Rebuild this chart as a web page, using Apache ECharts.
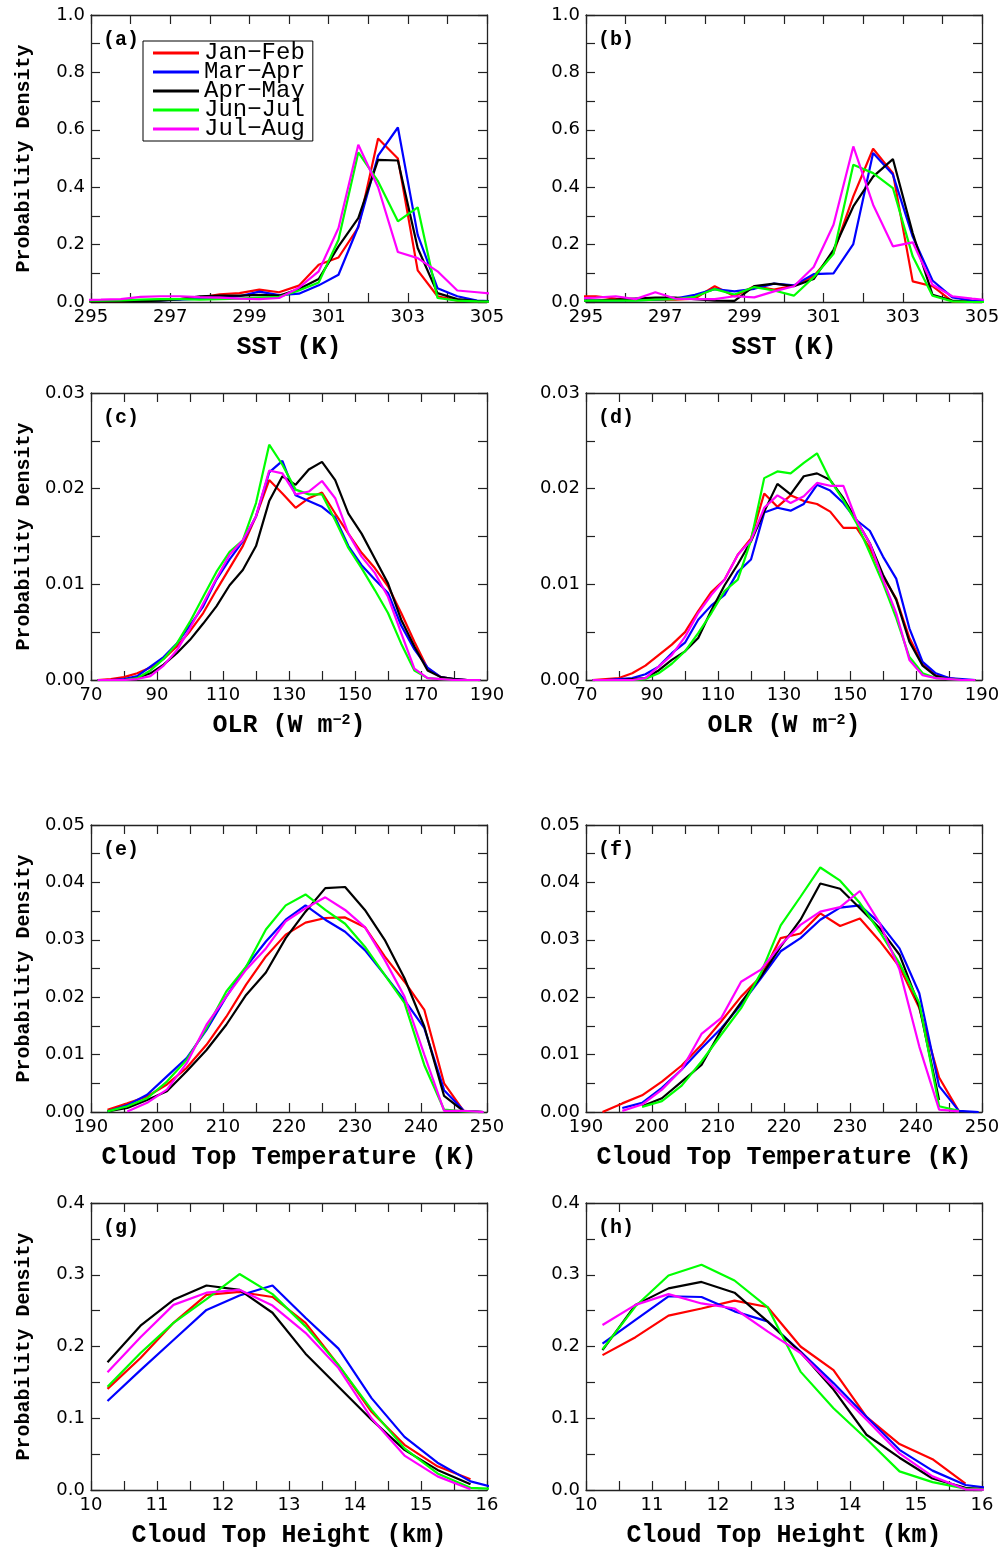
<!DOCTYPE html>
<html>
<head>
<meta charset="utf-8">
<title>Probability density</title>
<script src="https://cdn.jsdelivr.net/npm/echarts@6/dist/echarts.min.js"></script>
<style>
  html, body { margin: 0; padding: 0; background: #fff; }
  #main { width: 1006px; height: 1549px; }
</style>
</head>
<body>
<div id="main"></div>
<script>
var seasons = ['Jan\u2212Feb', 'Mar\u2212Apr', 'Apr\u2212May', 'Jun\u2212Jul', 'Jul\u2212Aug']
var seasonColors = ['#ff0000', '#0000ff', '#000000', '#00ff00', '#ff00ff']

// bin centres
var sstBins = [294.75, 295.25, 295.75, 296.25, 296.75, 297.25, 297.75, 298.25, 298.75, 299.25, 299.75,
  300.25, 300.75, 301.25, 301.75, 302.25, 302.75, 303.25, 303.75, 304.25, 304.75, 305.25]
var olrBins = [72, 76, 80, 84, 88, 92, 96, 100, 104, 108, 112, 116, 120, 124, 128, 132, 136, 140,
  144, 148, 152, 156, 160, 164, 168, 172, 176, 180, 184, 188]
var cttBins = [192.5, 195.5, 198.5, 201.5, 204.5, 207.5, 210.5, 213.5, 216.5, 219.5, 222.5, 225.5,
  228.5, 231.5, 234.5, 237.5, 240.5, 243.5, 246.5, 249.5]
var cthBins = [10.25, 10.75, 11.25, 11.75, 12.25, 12.75, 13.25, 13.75, 14.25, 14.75, 15.25, 15.75, 16.25]

// rows: Jan-Feb, Mar-Apr, Apr-May, Jun-Jul, Jul-Aug
var sstA = [
  [0.003, 0.003, 0.003, 0.005, 0.008, 0.01, 0.015, 0.027, 0.031, 0.043, 0.034, 0.057, 0.13, 0.155, 0.26, 0.57, 0.50, 0.11, 0.02, 0.005, 0.003, 0.002],
  [0.003, 0.004, 0.005, 0.005, 0.006, 0.008, 0.012, 0.015, 0.02, 0.036, 0.024, 0.029, 0.058, 0.095, 0.263, 0.51, 0.608, 0.234, 0.048, 0.02, 0.005, 0.002],
  [0.002, 0.002, 0.002, 0.003, 0.005, 0.01, 0.02, 0.022, 0.022, 0.025, 0.022, 0.045, 0.08, 0.194, 0.292, 0.495, 0.493, 0.188, 0.031, 0.01, 0.003, 0.001],
  [0.005, 0.005, 0.006, 0.008, 0.01, 0.01, 0.008, 0.01, 0.012, 0.015, 0.018, 0.04, 0.068, 0.217, 0.521, 0.42, 0.281, 0.33, 0.014, 0.005, 0.002, 0.001],
  [0.007, 0.008, 0.01, 0.018, 0.02, 0.02, 0.017, 0.015, 0.012, 0.01, 0.014, 0.05, 0.107, 0.258, 0.548, 0.40, 0.174, 0.153, 0.107, 0.04, 0.034, 0.028]
]
var sstB = [
  [0.02, 0.02, 0.012, 0.01, 0.008, 0.008, 0.012, 0.055, 0.02, 0.055, 0.043, 0.057, 0.09, 0.17, 0.368, 0.534, 0.449, 0.072, 0.055, 0.002, 0, 0],
  [0.005, 0.005, 0.005, 0.006, 0.008, 0.012, 0.025, 0.045, 0.037, 0.046, 0.064, 0.058, 0.097, 0.1, 0.202, 0.519, 0.444, 0.228, 0.075, 0.016, 0.005, 0.002],
  [0.005, 0.005, 0.008, 0.012, 0.015, 0.015, 0.01, 0.005, 0.004, 0.055, 0.064, 0.055, 0.08, 0.182, 0.333, 0.437, 0.498, 0.24, 0.025, 0.005, 0, 0],
  [0.005, 0.005, 0.005, 0.005, 0.008, 0.01, 0.018, 0.045, 0.026, 0.052, 0.04, 0.022, 0.086, 0.168, 0.478, 0.449, 0.397, 0.159, 0.022, 0.002, 0, 0],
  [0.012, 0.015, 0.02, 0.01, 0.034, 0.012, 0.01, 0.01, 0.02, 0.016, 0.037, 0.055, 0.122, 0.269, 0.542, 0.339, 0.194, 0.208, 0.06, 0.02, 0.012, 0.005]
]
var olrC = [
  [0, 0.0001, 0.0003, 0.0007, 0.0013, 0.0022, 0.0035, 0.0051, 0.007, 0.0094, 0.0117, 0.014, 0.0171, 0.0209, 0.0195, 0.018, 0.019, 0.0196, 0.0174, 0.0153, 0.0133, 0.0117, 0.0098, 0.007, 0.004, 0.0012, 0.0003, 0.0001, 0, 0],
  [0, 0, 0.0001, 0.0004, 0.0014, 0.0024, 0.0038, 0.0057, 0.0077, 0.0105, 0.0126, 0.0145, 0.0171, 0.0217, 0.0229, 0.0193, 0.0187, 0.0181, 0.017, 0.014, 0.012, 0.0105, 0.0091, 0.0057, 0.0032, 0.0013, 0.0003, 0.0001, 0, 0],
  [0, 0, 0, 0.0002, 0.0007, 0.0016, 0.0028, 0.0042, 0.0059, 0.0077, 0.0099, 0.0115, 0.014, 0.0187, 0.0213, 0.0204, 0.022, 0.0228, 0.0209, 0.0174, 0.0153, 0.0127, 0.0101, 0.0063, 0.0035, 0.001, 0.0003, 0.0001, 0, 0],
  [0, 0, 0, 0.0002, 0.001, 0.0022, 0.0038, 0.0061, 0.0087, 0.0113, 0.0134, 0.0146, 0.0185, 0.0246, 0.0225, 0.0199, 0.0194, 0.0194, 0.0167, 0.0138, 0.0117, 0.0094, 0.007, 0.0038, 0.001, 0.0002, 0.0001, 0, 0, 0],
  [0, 0, 0, 0.0001, 0.0004, 0.0015, 0.0031, 0.0054, 0.008, 0.0106, 0.0131, 0.0146, 0.0171, 0.0219, 0.0216, 0.0194, 0.0197, 0.0208, 0.019, 0.0153, 0.0129, 0.0112, 0.0087, 0.0049, 0.0012, 0.0002, 0.0001, 0, 0, 0]
]
var olrD = [
  [0, 0.0001, 0.0002, 0.0007, 0.0015, 0.0026, 0.0037, 0.005, 0.0072, 0.0092, 0.0105, 0.0131, 0.0148, 0.0195, 0.0181, 0.0193, 0.0187, 0.0184, 0.0176, 0.0159, 0.0159, 0.0138, 0.0108, 0.0085, 0.0044, 0.0017, 0.0005, 0.0002, 0, 0],
  [0, 0, 0.0001, 0.0002, 0.0006, 0.0014, 0.0028, 0.0039, 0.0063, 0.0078, 0.0089, 0.0113, 0.0126, 0.0175, 0.018, 0.0177, 0.0184, 0.0204, 0.0198, 0.0185, 0.0167, 0.0156, 0.0129, 0.0106, 0.0054, 0.0019, 0.0007, 0.0002, 0.0001, 0],
  [0, 0, 0, 0.0001, 0.0002, 0.001, 0.0021, 0.003, 0.0044, 0.0073, 0.0099, 0.0121, 0.0145, 0.0176, 0.0205, 0.0194, 0.0213, 0.0216, 0.0209, 0.019, 0.0167, 0.0143, 0.011, 0.0084, 0.004, 0.0015, 0.0004, 0.0001, 0, 0],
  [0, 0, 0, 0, 0.0001, 0.0007, 0.0017, 0.003, 0.0049, 0.007, 0.0093, 0.0105, 0.0146, 0.0211, 0.0218, 0.0216, 0.0227, 0.0237, 0.0209, 0.0188, 0.0164, 0.0133, 0.0101, 0.0065, 0.0024, 0.0007, 0.0002, 0.0001, 0, 0],
  [0, 0, 0, 0, 0.0002, 0.0014, 0.0026, 0.0045, 0.007, 0.0089, 0.0105, 0.0131, 0.0146, 0.018, 0.0193, 0.0185, 0.0192, 0.0206, 0.0203, 0.0203, 0.0167, 0.0143, 0.0105, 0.007, 0.0021, 0.0005, 0.0002, 0.0001, 0, 0]
]
var cttE = [
  [0.0004, 0.0015, 0.0027, 0.0048, 0.0077, 0.0117, 0.0166, 0.0222, 0.0271, 0.0309, 0.033, 0.0338, 0.0339, 0.0322, 0.0271, 0.0227, 0.0178, 0.005, 0.0001, 0],
  [0.0001, 0.0012, 0.003, 0.0062, 0.0094, 0.0143, 0.0201, 0.0253, 0.0297, 0.0335, 0.036, 0.0335, 0.0314, 0.0282, 0.0239, 0.0195, 0.0146, 0.0038, 0.0002, 0],
  [0.0001, 0.0007, 0.0021, 0.0036, 0.0071, 0.0108, 0.0152, 0.0204, 0.0243, 0.0303, 0.0349, 0.039, 0.0392, 0.0352, 0.03, 0.0233, 0.0149, 0.0028, 0.0001, 0],
  [0.0001, 0.001, 0.0024, 0.0053, 0.0091, 0.0146, 0.021, 0.0253, 0.0318, 0.036, 0.0379, 0.0352, 0.0328, 0.0288, 0.0239, 0.019, 0.0082, 0.0004, 0.0001, 0],
  [null, 0.0001, 0.0016, 0.0039, 0.0085, 0.0152, 0.0201, 0.0248, 0.0285, 0.0332, 0.0355, 0.0374, 0.0352, 0.0322, 0.0265, 0.0201, 0.01, 0.0002, 0.0002, 0]
]
var cttF = [
  [0, 0.0015, 0.0029, 0.0053, 0.0081, 0.0117, 0.0158, 0.0201, 0.0236, 0.0303, 0.0311, 0.0346, 0.0324, 0.0337, 0.0298, 0.0253, 0.0181, 0.006, 0.0001, null],
  [null, 0.0007, 0.0016, 0.0042, 0.0074, 0.0111, 0.0146, 0.0187, 0.0233, 0.028, 0.0303, 0.0335, 0.0356, 0.036, 0.0329, 0.0285, 0.0207, 0.0045, 0.0002, 0],
  [null, null, 0.001, 0.0024, 0.0053, 0.0082, 0.0143, 0.0191, 0.0236, 0.0288, 0.0335, 0.0398, 0.0389, 0.0355, 0.032, 0.0274, 0.0184, 0.0021, null, null],
  [null, null, 0.0009, 0.0019, 0.0046, 0.0088, 0.0135, 0.0181, 0.0242, 0.0325, 0.0375, 0.0426, 0.0403, 0.0364, 0.0314, 0.0259, 0.019, 0.001, 0.0002, null],
  [null, 0.0002, 0.0013, 0.0039, 0.0074, 0.0136, 0.0164, 0.0227, 0.0248, 0.0291, 0.0326, 0.0349, 0.0357, 0.0385, 0.0329, 0.0248, 0.0114, 0.0004, 0.0001, null]
]
var cthG = [
  [0.141, 0.184, 0.233, 0.272, 0.276, 0.269, 0.233, 0.174, 0.109, 0.063, 0.033, 0.015, null],
  [0.124, 0.167, 0.209, 0.251, 0.271, 0.285, 0.24, 0.197, 0.128, 0.074, 0.038, 0.012, 0],
  [0.178, 0.229, 0.265, 0.285, 0.279, 0.247, 0.19, 0.144, 0.098, 0.056, 0.028, 0.008, null],
  [0.144, 0.191, 0.233, 0.266, 0.301, 0.273, 0.228, 0.174, 0.112, 0.058, 0.023, 0.003, 0.001],
  [0.164, 0.213, 0.258, 0.275, 0.279, 0.257, 0.219, 0.17, 0.1, 0.048, 0.019, 0.001, null]
]
var cthH = [
  [0.188, 0.213, 0.243, 0.253, 0.264, 0.255, 0.2, 0.167, 0.102, 0.064, 0.043, 0.009, null],
  [0.204, 0.237, 0.27, 0.269, 0.249, 0.235, 0.193, 0.149, 0.102, 0.056, 0.027, 0.007, 0.001],
  [0.195, 0.258, 0.281, 0.29, 0.275, 0.235, 0.192, 0.14, 0.077, 0.045, 0.016, 0.003, 0],
  [0.196, 0.256, 0.299, 0.314, 0.292, 0.255, 0.165, 0.114, 0.071, 0.026, 0.011, 0.002, 0],
  [0.23, 0.258, 0.273, 0.26, 0.253, 0.221, 0.191, 0.144, 0.098, 0.051, 0.019, 0.001, 0]
]

// axis ranges: min, max, tick spacing, label spacing, decimals
var sstX = { min: 295, max: 305, tick: 1, step: 2, dec: 0 }
var olrX = { min: 70, max: 190, tick: 10, step: 20, dec: 0 }
var cttX = { min: 190, max: 250, tick: 5, step: 10, dec: 0 }
var cthX = { min: 10, max: 16, tick: 0.5, step: 1, dec: 0 }
var sstY = { min: 0, max: 1, tick: 0.1, step: 0.2, dec: 1 }
var olrY = { min: 0, max: 0.03, tick: 0.005, step: 0.01, dec: 2 }
var cttY = { min: 0, max: 0.05, tick: 0.005, step: 0.01, dec: 2 }
var cthY = { min: 0, max: 0.4, tick: 0.05, step: 0.1, dec: 1 }

var panels = [
  { tag: '(a)', bins: sstBins, rows: sstA, x: sstX, y: sstY, xName: 'SST (K)' },
  { tag: '(b)', bins: sstBins, rows: sstB, x: sstX, y: sstY, xName: 'SST (K)' },
  { tag: '(c)', bins: olrBins, rows: olrC, x: olrX, y: olrY, xName: 'OLR (W m{sup|\u22122})' },
  { tag: '(d)', bins: olrBins, rows: olrD, x: olrX, y: olrY, xName: 'OLR (W m{sup|\u22122})' },
  { tag: '(e)', bins: cttBins, rows: cttE, x: cttX, y: cttY, xName: 'Cloud Top Temperature (K)' },
  { tag: '(f)', bins: cttBins, rows: cttF, x: cttX, y: cttY, xName: 'Cloud Top Temperature (K)' },
  { tag: '(g)', bins: cthBins, rows: cthG, x: cthX, y: cthY, xName: 'Cloud Top Height (km)' },
  { tag: '(h)', bins: cthBins, rows: cthH, x: cthX, y: cthY, xName: 'Cloud Top Height (km)' }
]

var colLeft = [91, 586]
var rowTop = [15, 393, 825, 1203]
var gw = 396
var gh = 287

var tickFont = 'DejaVu Sans'
var monoFont = 'Liberation Mono'

function fmt (a) {
  var every = Math.round(a.step / a.tick)
  return function (v) {
    var k = Math.round((v - a.min) / a.tick)
    return k % every === 0 ? v.toFixed(a.dec) : ''
  }
}

function makeAxis (a, gi, pos, withLabel) {
  return {
    type: 'value',
    gridIndex: gi,
    position: pos,
    min: a.min,
    max: a.max,
    interval: a.tick,
    axisLine: { onZero: false, lineStyle: { color: '#222', width: 1.3 } },
    axisTick: { inside: true, length: 9, lineStyle: { color: '#222', width: 1.2 } },
    axisLabel: {
      show: withLabel,
      formatter: fmt(a),
      margin: 6,
      color: '#000',
      fontFamily: tickFont,
      fontSize: 18
    },
    splitLine: { show: false }
  }
}

var grid = []
var xAxis = []
var yAxis = []
var series = []
var title = []

panels.forEach(function (p, i) {
  var left = colLeft[i % 2]
  var top = rowTop[Math.floor(i / 2)]
  grid.push({ left: left, top: top, width: gw, height: gh })

  var xb = makeAxis(p.x, i, 'bottom', true)
  xb.name = p.xName
  xb.nameLocation = 'middle'
  xb.nameGap = 33
  xb.nameTextStyle = {
    fontFamily: monoFont,
    fontWeight: 'bold',
    fontSize: 25,
    color: '#000',
    rich: {
      sup: { fontFamily: monoFont, fontWeight: 'bold', fontSize: 15, color: '#000', verticalAlign: 'top' }
    }
  }
  xAxis.push(xb)
  xAxis.push(makeAxis(p.x, i, 'top', false))

  var yl = makeAxis(p.y, i, 'left', true)
  if (i % 2 === 0) {
    yl.name = 'Probability Density'
    yl.nameLocation = 'middle'
    yl.nameGap = 57
    yl.nameTextStyle = { fontFamily: monoFont, fontWeight: 'bold', fontSize: 20, color: '#000' }
  }
  yAxis.push(yl)
  yAxis.push(makeAxis(p.y, i, 'right', false))

  p.rows.forEach(function (vals, s) {
    var pts = []
    p.bins.forEach(function (b, k) {
      if (vals[k] !== null) pts.push([b, vals[k]])
    })
    series.push({
      name: seasons[s],
      type: 'line',
      xAxisIndex: 2 * i,
      yAxisIndex: 2 * i,
      data: pts,
      symbol: 'none',
      clip: true,
      color: seasonColors[s],
      lineStyle: { color: seasonColors[s], width: 2.2 }
    })
  })

  // panel letter
  title.push({
    text: p.tag,
    left: left + 12,
    top: top + 15,
    padding: 0,
    textStyle: { fontFamily: monoFont, fontWeight: 'bold', fontSize: 20, color: '#000' }
  })
})

var myChart = echarts.init(document.getElementById('main'), null, { renderer: 'canvas' })
var option = {
  backgroundColor: '#fff',
  animation: false,
  title: title,
  legend: {
    data: seasons,
    orient: 'vertical',
    left: 143,
    top: 41,
    padding: [0, 8, 0, 10],
    itemGap: -5,
    itemWidth: 46,
    itemHeight: 3,
    icon: 'rect',
    borderColor: '#000',
    borderWidth: 1,
    selectedMode: false,
    textStyle: { fontFamily: monoFont, fontSize: 24, color: '#000' }
  },
  grid: grid,
  xAxis: xAxis,
  yAxis: yAxis,
  series: series
}
myChart.setOption(option)
window.addEventListener('resize', function () {
  myChart.resize()
})
</script>
</body>
</html>
